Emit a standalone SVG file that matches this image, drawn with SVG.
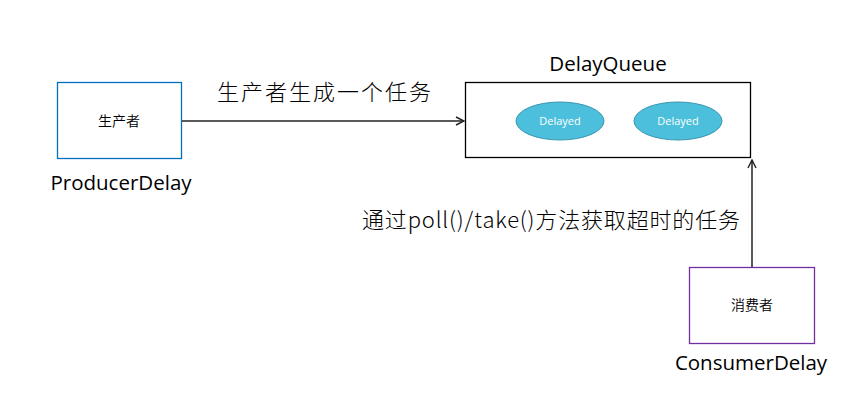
<svg xmlns="http://www.w3.org/2000/svg" width="850" height="404" viewBox="0 0 850 404">
<style>
.lbl{font-family:"Open Sans","Noto Sans CJK SC",sans-serif;font-size:20.5px;fill:#000;text-anchor:middle}
.cjk{font-family:"Noto Sans CJK SC","Open Sans",sans-serif;fill:#000;font-weight:300}
.box{font-family:"Noto Sans CJK SC","Open Sans",sans-serif;fill:#000;font-weight:350;font-size:14px;text-anchor:middle}
.node{fill:#fff;stroke-width:1.3}
.ell{fill:#4BBFDB;stroke:#3A95AE;stroke-width:1}
.et{font-family:"Open Sans",sans-serif;font-size:11px;fill:#fff;text-anchor:middle}
.conn{stroke:#222;stroke-width:1.5;fill:none}
</style>
<defs>
<marker id="arr" viewBox="0 0 10 10" refX="9" refY="5" markerWidth="10" markerHeight="10" markerUnits="userSpaceOnUse" orient="auto">
<path d="M1,1 L9,5 L1,9" fill="none" stroke="#222" stroke-width="1.4"/>
</marker>
</defs>
<rect width="850" height="404" fill="#fff"/>
<g id="connectors">
<line class="conn" x1="181" y1="121" x2="464" y2="121" marker-end="url(#arr)"/>
<line class="conn" x1="752" y1="267" x2="752" y2="160" marker-end="url(#arr)"/>
<text class="cjk" x="217" y="100" font-size="22" textLength="214">生产者生成一个任务</text>
<text class="cjk" x="362" y="228" font-size="22" textLength="378">通过poll()/take()方法获取超时的任务</text>
</g>
<g id="producer">
<rect class="node" x="57.5" y="82.5" width="124" height="76" stroke="#0070C0"/>
<text class="box" x="119" y="126">生产者</text>
<text class="lbl" x="121" y="190">ProducerDelay</text>
</g>
<g id="queue">
<rect class="node" x="465.5" y="82.5" width="285" height="75" stroke="#000"/>
<text class="lbl" x="608" y="71">DelayQueue</text>
<g id="delayed1">
<ellipse class="ell" cx="560" cy="121" rx="44" ry="19"/>
<text class="et" x="560" y="125">Delayed</text>
</g>
<g id="delayed2">
<ellipse class="ell" cx="678" cy="121" rx="44" ry="19"/>
<text class="et" x="678" y="125">Delayed</text>
</g>
</g>
<g id="consumer">
<rect class="node" x="689.5" y="267.5" width="125" height="76" stroke="#7030A0"/>
<text class="box" x="752" y="310">消费者</text>
<text class="lbl" x="751" y="370">ConsumerDelay</text>
</g>
</svg>
